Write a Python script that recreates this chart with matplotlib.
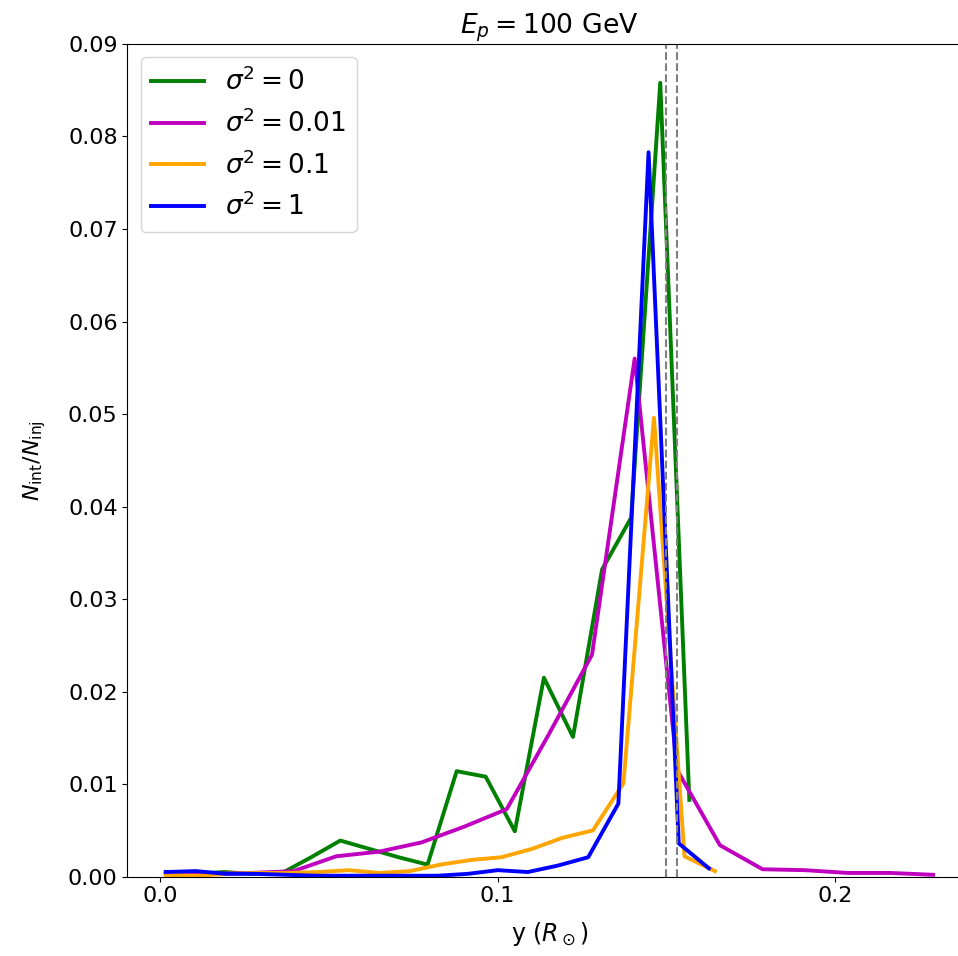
import numpy as np
import matplotlib.pyplot as plt

# bin centres (y in solar radii) and normalised counts for each sigma^2
y_s0 = np.linspace(0.0017, 0.1568, 19)
n_s0 = [0.0003, 0.0003, 0.0005, 0.0003, 0.0004, 0.0021, 0.0039, 0.0030, 0.0021, 0.0013,
        0.0114, 0.0108, 0.0049, 0.0215, 0.0151, 0.0332, 0.0388, 0.0858, 0.0083]

y_s001 = np.linspace(0.0017, 0.2290, 19)
n_s001 = [0.0005, 0.0003, 0.0004, 0.0006, 0.0022, 0.0027, 0.0037, 0.0054, 0.0073, 0.0155,
          0.0240, 0.0560, 0.0115, 0.0034, 0.0008, 0.0007, 0.0004, 0.0004, 0.0002]

y_s01 = np.linspace(0.0017, 0.1644, 19)
n_s01 = [0.0002, 0.0001, 0.0003, 0.0004, 0.0004, 0.0005, 0.0007, 0.0004, 0.0006, 0.0013,
         0.0018, 0.0021, 0.0030, 0.0042, 0.0050, 0.0101, 0.0496, 0.0022, 0.0006]

y_s1 = np.linspace(0.0017, 0.1626, 19)
n_s1 = [0.0005, 0.0006, 0.0003, 0.0003, 0.0002, 0.0001, 0.0001, 0.0001, 0.0001, 0.0001,
        0.0003, 0.0007, 0.0005, 0.0012, 0.0021, 0.0079, 0.0783, 0.0036, 0.0009]

vlines = [0.1500, 0.1532]

plt.rcParams['font.size'] = 16

fig = plt.figure(figsize=(9.58, 9.56), dpi=100)
ax = fig.add_axes([0.133, 0.083, 0.881, 0.871])

ax.plot(y_s0, n_s0, color='green', lw=2.8, label=r'$\sigma^2 = 0$')
ax.plot(y_s001, n_s001, color='m', lw=2.8, label=r'$\sigma^2 = 0.01$')
ax.plot(y_s01, n_s01, color='orange', lw=2.8, label=r'$\sigma^2 = 0.1$')
ax.plot(y_s1, n_s1, color='blue', lw=2.8, label=r'$\sigma^2 = 1$')

for v in vlines:
    ax.axvline(v, color='gray', ls='--', lw=1.5)

ax.set_ylim(0, 0.09)
ax.set_xticks([0.0, 0.1, 0.2])
ax.set_xlabel(r'y ($R_\odot$)', fontsize=17, labelpad=10)
ax.set_ylabel(r'$N_{\rm int}/N_{\rm inj}$', labelpad=14)
ax.set_title(r'$E_p = 100$ GeV')
ax.legend(loc='upper left', fontsize=19)

fig.savefig('out.png')
